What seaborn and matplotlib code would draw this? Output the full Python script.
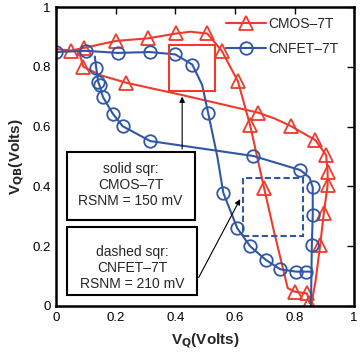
import numpy as np
import matplotlib
matplotlib.use("Agg")
import matplotlib.pyplot as plt
from matplotlib.patches import Rectangle
import seaborn as sns

# butterfly curves (V_Q, V_QB)
cmos_a_x = [0.0, 0.05, 0.095, 0.20, 0.31, 0.403, 0.45, 0.507, 0.556, 0.61, 0.651, 0.698, 0.73, 0.777, 0.80, 0.842, 0.85]
cmos_a_y = [0.86, 0.855, 0.864, 0.887, 0.896, 0.912, 0.918, 0.912, 0.854, 0.752, 0.605, 0.394, 0.254, 0.06, 0.048, 0.042, 0.01]
cmos_a_marks = [1, 2, 3, 4, 5, 7, 8, 9, 10, 11, 14, 15, 16]

cmos_b_x = [0.075, 0.092, 0.15, 0.236, 0.423, 0.678, 0.732, 0.788, 0.87, 0.906, 0.911, 0.911, 0.898, 0.886, 0.87, 0.855]
cmos_b_y = [0.856, 0.80, 0.772, 0.747, 0.706, 0.647, 0.628, 0.602, 0.555, 0.505, 0.449, 0.405, 0.31, 0.204, 0.08, 0.0]
cmos_b_marks = [1, 3, 5, 7, 8, 9, 10, 11, 12, 13]

cnfet_a_x = [0.0, 0.10, 0.208, 0.314, 0.40, 0.457, 0.49, 0.51, 0.541, 0.561, 0.608, 0.651, 0.704, 0.752, 0.805, 0.838, 0.855]
cnfet_a_y = [0.85, 0.854, 0.847, 0.85, 0.842, 0.808, 0.74, 0.647, 0.50, 0.379, 0.26, 0.20, 0.154, 0.123, 0.115, 0.115, 0.115]
cnfet_a_marks = [0, 1, 2, 3, 4, 5, 7, 9, 10, 11, 12, 13, 14, 15]

cnfet_b_x = [0.13, 0.135, 0.142, 0.146, 0.157, 0.19, 0.223, 0.316, 0.662, 0.819, 0.85, 0.861, 0.861, 0.858, 0.855]
cnfet_b_y = [0.835, 0.795, 0.748, 0.738, 0.70, 0.644, 0.602, 0.552, 0.502, 0.455, 0.43, 0.397, 0.304, 0.204, 0.0]
cnfet_b_marks = [1, 2, 3, 4, 5, 6, 7, 8, 9, 11, 12, 13]

red = "#EE3B2B"
blue = "#2F57A6"

sns.set_style("white")
plt.rcParams["font.family"] = ["Liberation Sans", "DejaVu Sans"]

fig = plt.figure(figsize=(3.64, 3.60), dpi=100)
ax = fig.add_axes([0.154, 0.15, 0.819, 0.83])

tri = dict(marker="^", markersize=10, markerfacecolor="none", markeredgewidth=1.3)
circ = dict(marker="o", markersize=9, markerfacecolor="none", markeredgewidth=1.3)

sns.lineplot(x=cmos_a_x, y=cmos_a_y, sort=False, estimator=None, ax=ax, color=red, lw=1.5,
             markevery=cmos_a_marks, markeredgecolor=red, label="CMOS\u20137T", **tri)
sns.lineplot(x=cmos_b_x, y=cmos_b_y, sort=False, estimator=None, ax=ax, color=red, lw=1.5,
             markevery=cmos_b_marks, markeredgecolor=red, **tri)
sns.lineplot(x=cnfet_a_x, y=cnfet_a_y, sort=False, estimator=None, ax=ax, color=blue, lw=1.5,
             markevery=cnfet_a_marks, markeredgecolor=blue, label="CNFET\u20137T", **circ)
sns.lineplot(x=cnfet_b_x, y=cnfet_b_y, sort=False, estimator=None, ax=ax, color=blue, lw=1.5,
             markevery=cnfet_b_marks, markeredgecolor=blue, **circ)

# noise margin squares
ax.add_patch(Rectangle((0.378, 0.72), 0.154, 0.155, fill=False, ec=red, lw=1.5, zorder=4))
ax.add_patch(Rectangle((0.627, 0.233), 0.2, 0.194, fill=False, ec=blue, lw=1.5, ls=(0, (3, 1.5)), zorder=4))

# annotation boxes
ax.add_patch(Rectangle((0.036, 0.288), 0.43, 0.228, fc="white", ec="black", lw=1.5, zorder=5))
ax.add_patch(Rectangle((0.036, 0.037), 0.438, 0.228, fc="white", ec="black", lw=1.5, zorder=5))
ax.text(0.25, 0.404, "solid sqr:\nCMOS\u20137T\nRSNM = 150 mV", ha="center", va="center",
        fontsize=10, linespacing=1.2, zorder=6)
ax.text(0.255, 0.128, "dashed sqr:\nCNFET\u20137T\nRSNM = 210 mV", ha="center", va="center",
        fontsize=10, linespacing=1.2, zorder=6)
ax.annotate("", xy=(0.423, 0.71), xytext=(0.423, 0.516),
            arrowprops=dict(arrowstyle="-|>", color="black", lw=0.8, mutation_scale=8), zorder=6)
ax.annotate("", xy=(0.622, 0.366), xytext=(0.474, 0.087),
            arrowprops=dict(arrowstyle="-|>", color="black", lw=0.8, mutation_scale=8), zorder=6)

ax.set_xlim(0, 1)
ax.set_ylim(0, 1)
ticks = [0, 0.2, 0.4, 0.6, 0.8, 1]
ax.set_xticks(ticks)
ax.set_yticks(ticks)
ax.set_xticklabels(["0", "0.2", "0.4", "0.6", "0.8", "1"])
ax.set_yticklabels(["0", "0.2", "0.4", "0.6", "0.8", "1"])
ax.tick_params(direction="in", length=5, width=1, top=True, right=True, labelsize=9.5, pad=4,
               colors="black")
for s in ax.spines.values():
    s.set_color("black")
    s.set_linewidth(1.8)

ax.set_xlabel("V$_\\mathbf{Q}$(Volts)", fontsize=11, fontweight="bold", labelpad=6)
ax.set_ylabel("V$_\\mathbf{QB}$(Volts)", fontsize=11, fontweight="bold", labelpad=4)

ax.legend(loc="upper right", bbox_to_anchor=(0.965, 0.985), frameon=False, fontsize=10,
          handlelength=2.9, handletextpad=0.15, borderaxespad=0.0, labelspacing=0.75)

fig.savefig("out.png", dpi=100)
